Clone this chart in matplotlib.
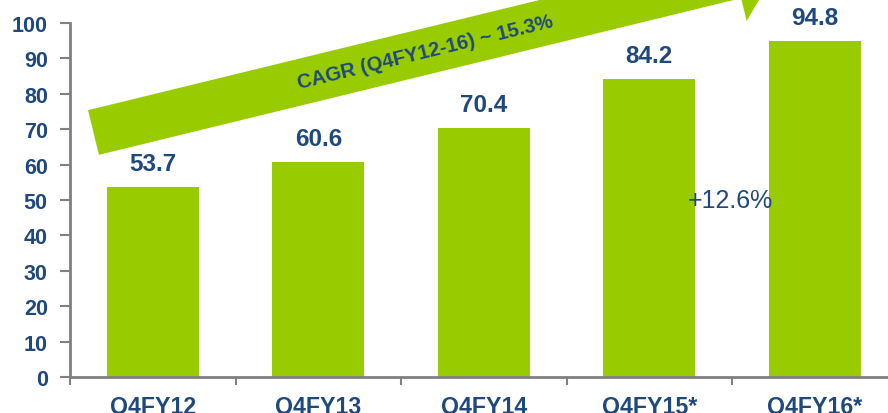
import numpy as np
import matplotlib
matplotlib.use("Agg")
import matplotlib.pyplot as plt
from matplotlib.patches import Polygon

# data
quarters = ["Q4FY12", "Q4FY13", "Q4FY14", "Q4FY15*", "Q4FY16*"]
values = [53.7, 60.6, 70.4, 84.2, 94.8]
cagr_text = "CAGR (Q4FY12-16) ~ 15.3%"
growth_text = "+12.6%"

green = "#99CC00"
blue = "#1F497D"
grey = "#808080"

W, H = 888, 414
fig = plt.figure(figsize=(W / 100, H / 100), dpi=100)
# axes placed in pixel terms, right side runs past the figure edge
ax = fig.add_axes([70 / W, (H - 378) / H, 827.5 / W, (378 - 24) / H])

x = np.arange(len(quarters))
ax.bar(x, values, width=0.556, color=green, zorder=2)
ax.set_xlim(-0.5, len(quarters) - 0.5)
ax.set_ylim(0, 100)

for xi, v in zip(x, values):
    ax.text(xi, v + 4.8, f"{v:.1f}", ha="center", va="baseline",
            fontsize=17.5, fontweight="bold", color=blue, family="Liberation Sans")

ax.text(3.49, 50.0, growth_text, ha="center", va="center", fontsize=18,
        color=blue, family="Liberation Sans")

# spines / ticks
for s in ["top", "right"]:
    ax.spines[s].set_visible(False)
for s in ["left", "bottom"]:
    ax.spines[s].set_color(grey)
    ax.spines[s].set_linewidth(2)

ax.set_yticks(np.arange(0, 101, 10))
ax.tick_params(axis="y", length=7, width=1.5, color=grey, pad=9,
               labelsize=15.5, labelcolor=blue)
ax.set_xticks(x)
ax.set_xticklabels(quarters)
ax.set_xticks(np.arange(-0.5, len(quarters), 1.0), minor=True)
ax.tick_params(axis="x", which="major", length=0, pad=13,
               labelsize=16.7, labelcolor=blue)
ax.tick_params(axis="x", which="minor", length=6, width=1.5, color=grey)
for lab in ax.get_xticklabels() + ax.get_yticklabels():
    lab.set_fontweight("bold")
    lab.set_family("Liberation Sans")

# CAGR arrow, drawn in pixel space (y downward) then mapped to figure fraction
start = np.array([93.5, 133.5])
ang = np.arctan(0.244)
d = np.array([np.cos(ang), -np.sin(ang)])      # along the shaft
n = np.array([np.sin(ang), np.cos(ang)])       # perpendicular, downward
shaft_len, half_w, head_half, head_len = 661, 23, 46.5, 45
base = start + d * shaft_len
tip = start + d * (shaft_len + head_len)
pts = [start - n * half_w, base - n * half_w, base - n * head_half, tip,
       base + n * head_half, base + n * half_w, start + n * half_w]
pts = [(p[0] / W, 1 - p[1] / H) for p in pts]
fig.patches.append(Polygon(pts, closed=True, facecolor=green, edgecolor="none",
                           transform=fig.transFigure, zorder=3))

c = start + d * 342
fig.text(c[0] / W, 1 - c[1] / H, cagr_text, rotation=np.degrees(ang),
         rotation_mode="anchor", ha="center", va="center", fontsize=14.5,
         fontweight="bold", color=blue, family="Liberation Sans", zorder=4)

fig.savefig("out.png", dpi=100)
